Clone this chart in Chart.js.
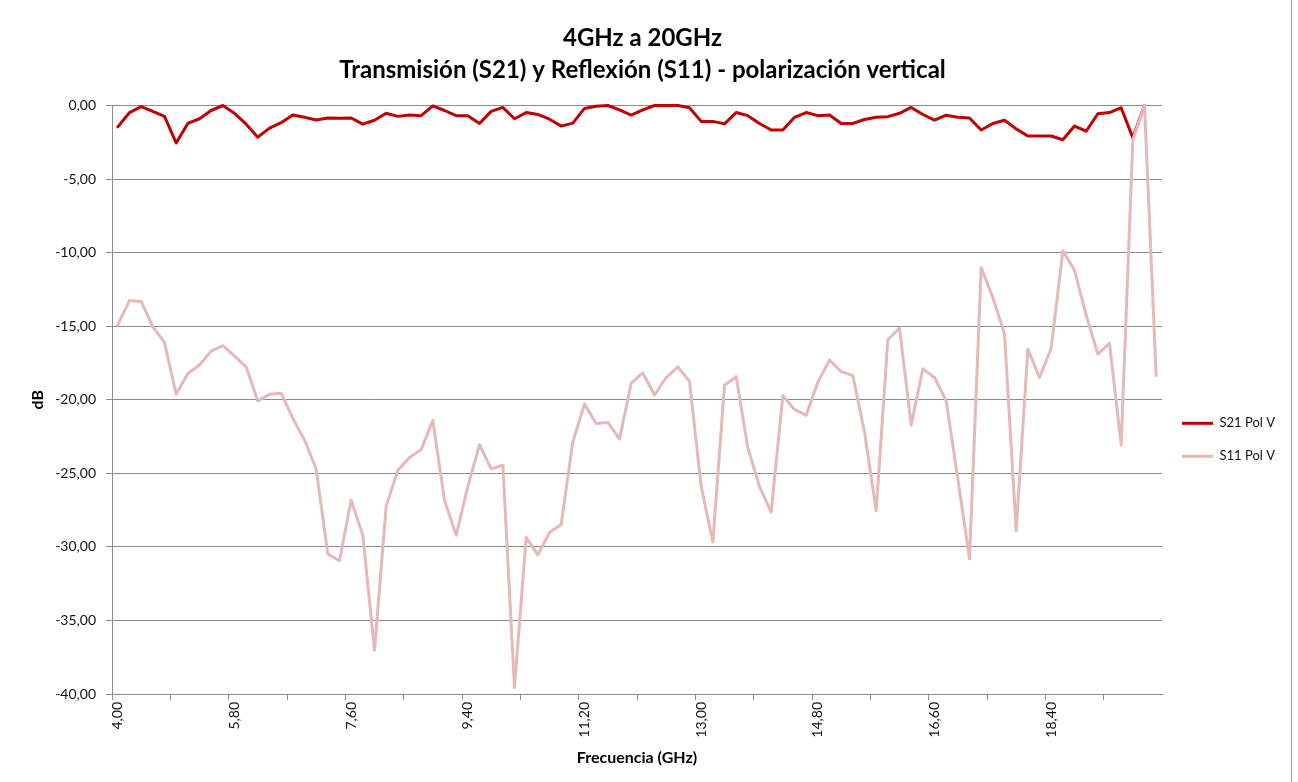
<!DOCTYPE html>
<html>
<head>
<meta charset="utf-8">
<title>4GHz a 20GHz - S21 / S11</title>
<script src="https://cdn.jsdelivr.net/npm/chart.js@4/dist/chart.umd.min.js"></script>
<style>
  html, body { margin: 0; padding: 0; background: #fff; }
  #wrap { width: 1298px; height: 782px; position: relative; }
</style>
</head>
<body>
<div id="wrap"><canvas id="sparams" width="1298" height="782"></canvas></div>
<script>
// frequency points (GHz), 0.18 GHz step
var freqGHz = [
  4.00, 4.18, 4.36, 4.54, 4.72, 4.90, 5.08, 5.26, 5.44, 5.62,
  5.80, 5.98, 6.16, 6.34, 6.52, 6.70, 6.88, 7.06, 7.24, 7.42,
  7.60, 7.78, 7.96, 8.14, 8.32, 8.50, 8.68, 8.86, 9.04, 9.22,
  9.40, 9.58, 9.76, 9.94, 10.12, 10.30, 10.48, 10.66, 10.84, 11.02,
  11.20, 11.38, 11.56, 11.74, 11.92, 12.10, 12.28, 12.46, 12.64, 12.82,
  13.00, 13.18, 13.36, 13.54, 13.72, 13.90, 14.08, 14.26, 14.44, 14.62,
  14.80, 14.98, 15.16, 15.34, 15.52, 15.70, 15.88, 16.06, 16.24, 16.42,
  16.60, 16.78, 16.96, 17.14, 17.32, 17.50, 17.68, 17.86, 18.04, 18.22,
  18.40, 18.58, 18.76, 18.94, 19.12, 19.30, 19.48, 19.66, 19.84, 20.02
];

// S21 Pol V (dB)
var s21PolV = [
  -1.45, -0.48, -0.08, -0.40, -0.74, -2.55, -1.22, -0.90, -0.34, 0.00,
  -0.53, -1.27, -2.15, -1.54, -1.17, -0.64, -0.80, -0.98, -0.85, -0.87,
  -0.85, -1.27, -1.00, -0.53, -0.74, -0.64, -0.69, -0.03, -0.34, -0.69,
  -0.69, -1.22, -0.40, -0.13, -0.90, -0.48, -0.61, -0.93, -1.40, -1.20,
  -0.20, -0.05, 0.00, -0.30, -0.65, -0.30, 0.00, 0.00, 0.00, -0.15,
  -1.08, -1.08, -1.25, -0.48, -0.69, -1.22, -1.67, -1.67, -0.80, -0.48,
  -0.69, -0.64, -1.22, -1.22, -0.95, -0.80, -0.76, -0.53, -0.13, -0.61,
  -1.00, -0.66, -0.80, -0.85, -1.67, -1.22, -1.00, -1.59, -2.07, -2.07,
  -2.07, -2.33, -1.40, -1.75, -0.56, -0.48, -0.15, -2.20, 0.00, null
];

// S11 Pol V (dB)
var s11PolV = [
  -14.91, -13.25, -13.32, -15.05, -16.10, -19.63, -18.22, -17.64, -16.69, -16.32,
  -17.03, -17.77, -20.08, -19.63, -19.55, -21.27, -22.73, -24.71, -30.49, -30.94,
  -26.83, -29.20, -37.03, -27.23, -24.80, -23.92, -23.39, -21.40, -26.83, -29.20,
  -25.90, -23.05, -24.70, -24.45, -39.55, -29.35, -30.54, -29.03, -28.48, -22.86,
  -20.29, -21.62, -21.54, -22.68, -18.89, -18.17, -19.68, -18.49, -17.77, -18.75,
  -25.90, -29.67, -19.02, -18.44, -23.26, -25.90, -27.63, -19.73, -20.66, -21.06,
  -18.81, -17.30, -18.09, -18.36, -22.20, -27.55, -15.92, -15.13, -21.72, -17.90,
  -18.49, -20.08, -25.37, -30.81, -11.02, -13.06, -15.52, -28.90, -16.56, -18.49,
  -16.50, -9.88, -11.20, -14.25, -16.90, -16.16, -23.07, -2.33, 0.00, -18.36
];

var yMin = -40, yMax = 0, yStep = 5;
var labelEvery = 10, tickMarkEvery = 5;

var axisGrey = '#8c8c8c',
    textColor = '#111',
    fontFamily = 'Lato, "Open Sans", sans-serif';

var comma = function(v) {
  return Number(v).toFixed(2).replace('.', ',');
};

// white background + outer chart frame on the right
var chartFrame = {
  id: 'chartFrame',
  beforeDraw: function(chart) {
    var c = chart.ctx;
    c.save();
    c.fillStyle = '#fff';
    c.fillRect(0, 0, chart.width, chart.height);
    c.restore();
  },
  afterDraw: function(chart) {
    var c = chart.ctx;
    c.save();
    c.fillStyle = '#9a9a9a';
    c.fillRect(chart.width - 7, 0, 1, chart.height);
    c.restore();
  }
};

Chart.defaults.font.family = fontFamily;
Chart.defaults.color = textColor;

var ctx = document.getElementById('sparams').getContext('2d');
var chart = new Chart(ctx, {
  type: 'line',
  data: {
    labels: freqGHz.map(comma),
    datasets: [{
      label: 'S21 Pol V',
      data: s21PolV,
      borderColor: '#c00000',
      backgroundColor: '#c00000',
      borderWidth: 3,
      order: 1
    }, {
      label: 'S11 Pol V',
      data: s11PolV,
      borderColor: '#e6b9b8',
      backgroundColor: '#e6b9b8',
      borderWidth: 3,
      order: 0
    }]
  },
  options: {
    responsive: false,
    animation: false,
    devicePixelRatio: 1,
    layout: { padding: { left: 0, right: 13, top: 0, bottom: 12 } },
    elements: {
      point: { radius: 0, hoverRadius: 0 },
      line: { tension: 0, borderJoinStyle: 'round', borderCapStyle: 'round', fill: false }
    },
    datasets: { line: { clip: 3, spanGaps: false } },
    plugins: {
      tooltip: { enabled: false },
      title: {
        display: true,
        text: ['4GHz a 20GHz', 'Transmisión (S21) y Reflexión (S11) - polarización vertical'],
        color: '#000',
        font: { size: 24, weight: 'bold', lineHeight: 1.3333 },
        padding: { top: 22, bottom: 19.5 }
      },
      legend: {
        position: 'right',
        align: 'center',
        // empty title only used to push the items down, as in the original
        title: { display: true, text: '', font: { size: 8 }, padding: { top: 100, bottom: 0 } },
        labels: {
          usePointStyle: true,
          pointStyle: 'line',
          pointStyleWidth: 31,
          padding: 20,
          color: textColor,
          font: { size: 13, lineHeight: 0.77 },
          sort: function(a, b) { return a.datasetIndex - b.datasetIndex; }
        }
      }
    },
    scales: {
      x: {
        type: 'category',
        offset: true,
        afterFit: function(scale) { scale.height = 76; },
        grid: {
          offset: true,
          drawOnChartArea: false,
          drawTicks: true,
          tickLength: 6,
          color: function(c) { return c.index % tickMarkEvery === 0 ? axisGrey : 'rgba(0,0,0,0)'; }
        },
        border: { display: true, color: axisGrey, width: 1 },
        ticks: {
          autoSkip: false,
          minRotation: 90,
          maxRotation: 90,
          padding: 2,
          font: { size: 14 },
          callback: function(value, index) {
            return index % labelEvery === 0 ? this.getLabelForValue(value) : '';
          }
        },
        title: {
          display: true,
          text: 'Frecuencia (GHz)',
          color: '#000',
          font: { size: 16, weight: 'bold' },
          padding: { top: 0, bottom: 2.4 }
        }
      },
      y: {
        min: yMin,
        max: yMax,
        afterFit: function(scale) { scale.width = 112; },
        grid: { color: axisGrey, lineWidth: 1, tickLength: 6, drawTicks: true },
        border: { display: true, color: axisGrey, width: 1 },
        ticks: {
          stepSize: yStep,
          padding: 10,
          font: { size: 14 },
          callback: function(v) { return comma(v); }
        },
        title: {
          display: true,
          text: 'dB',
          color: '#000',
          font: { size: 16, weight: 'bold' },
          padding: { top: 28.4, bottom: 0 }
        }
      }
    }
  },
  plugins: [chartFrame]
});
</script>
</body>
</html>
